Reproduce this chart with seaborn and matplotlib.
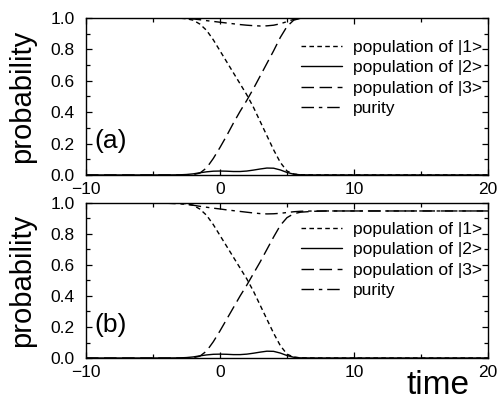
import matplotlib
matplotlib.use('Agg')
import matplotlib.pyplot as plt
from matplotlib.ticker import MultipleLocator
import seaborn as sns

sns.set_style('ticks')
plt.rcParams['font.family'] = ['Liberation Sans', 'DejaVu Sans']
plt.rcParams['text.color'] = 'black'
plt.rcParams['axes.labelcolor'] = 'black'
plt.rcParams['xtick.color'] = 'black'
plt.rcParams['ytick.color'] = 'black'

# ── data ──
time = [-10, -4, -3, -2.5, -2, -1.5, -1, -0.5, 0, 0.5, 1, 1.5, 2, 2.5, 3, 3.5,
        4, 4.5, 5, 5.5, 6, 7, 8, 10, 20]

# panel (a)
pop1_a = [1.0, 1.0, 0.998, 0.994, 0.985, 0.96, 0.92, 0.86, 0.79, 0.72, 0.65, 0.58,
          0.51, 0.43, 0.34, 0.25, 0.16, 0.08, 0.025, 0.006, 0.001, 0, 0, 0, 0]
pop2_a = [0, 0, 0.001, 0.003, 0.007, 0.014, 0.02, 0.024, 0.025, 0.024, 0.022, 0.022,
          0.025, 0.031, 0.038, 0.044, 0.043, 0.032, 0.016, 0.005, 0.001, 0, 0, 0, 0]
pop3_a = [0, 0, 0, 0, 0.002, 0.012, 0.045, 0.105, 0.175, 0.25, 0.33, 0.405,
          0.475, 0.55, 0.63, 0.71, 0.79, 0.875, 0.945, 0.985, 0.997, 1.0, 1.0, 1.0, 1.0]
purity_a = [1.0, 1.0, 0.999, 0.997, 0.993, 0.988, 0.982, 0.977, 0.972, 0.967, 0.962, 0.957,
            0.953, 0.95, 0.948, 0.949, 0.953, 0.962, 0.976, 0.99, 0.998, 1.0, 1.0, 1.0, 1.0]

# panel (b)
pop1_b = [1.0, 1.0, 0.998, 0.994, 0.985, 0.96, 0.92, 0.86, 0.79, 0.72, 0.65, 0.58,
          0.51, 0.43, 0.34, 0.25, 0.16, 0.08, 0.025, 0.006, 0.001, 0, 0, 0, 0]
pop2_b = [0, 0, 0.001, 0.003, 0.007, 0.014, 0.02, 0.024, 0.025, 0.024, 0.022, 0.022,
          0.025, 0.031, 0.038, 0.044, 0.043, 0.032, 0.016, 0.005, 0.001, 0, 0, 0, 0]
pop3_b = [0, 0, 0, 0, 0.002, 0.012, 0.045, 0.105, 0.175, 0.25, 0.325, 0.40,
          0.47, 0.545, 0.62, 0.70, 0.78, 0.855, 0.905, 0.93, 0.94, 0.946, 0.948, 0.948, 0.948]
purity_b = [1.0, 0.998, 0.994, 0.99, 0.985, 0.978, 0.972, 0.966, 0.961, 0.955, 0.95, 0.945,
            0.94, 0.935, 0.931, 0.929, 0.93, 0.933, 0.938, 0.943, 0.946, 0.948, 0.948, 0.948, 0.948]

labels = ['population of |1>', 'population of |2>', 'population of |3>', 'purity']
styles = [(0, (3.3, 2.4)), '-', (0, (9, 4)), (0, (9, 3.5, 2.5, 3.5))]

fig = plt.figure(figsize=(5, 4.05), dpi=100)
ax_a = fig.add_axes([0.172, 0.568, 0.804, 0.388])
ax_b = fig.add_axes([0.172, 0.116, 0.804, 0.383])

panels = [(ax_a, '(a)', [pop1_a, pop2_a, pop3_a, purity_a], 0.86),
          (ax_b, '(b)', [pop1_b, pop2_b, pop3_b, purity_b], 0.877)]

for ax, tag, series, leg_top in panels:
    for vals, lab, ls in zip(series, labels, styles):
        sns.lineplot(x=time, y=vals, ax=ax, color='black', linewidth=1.0,
                     linestyle=ls, label=lab)
    ax.set_xlim(-10, 20)
    ax.set_ylim(0, 1.0)
    ax.xaxis.set_major_locator(MultipleLocator(10))
    ax.xaxis.set_minor_locator(MultipleLocator(5))
    ax.yaxis.set_major_locator(MultipleLocator(0.2))
    ax.yaxis.set_minor_locator(MultipleLocator(0.1))
    ax.yaxis.set_major_formatter(plt.FormatStrFormatter('%.1f'))
    ax.tick_params(which='both', direction='in', top=True, right=True,
                   width=0.9, colors='black')
    ax.tick_params(which='major', length=4.5, labelsize=12.5)
    ax.tick_params(which='minor', length=3)
    ax.tick_params(axis='y', pad=8)
    ax.tick_params(axis='x', pad=5)
    for sp in ax.spines.values():
        sp.set_linewidth(1.0)
        sp.set_color('black')
    ax.set_ylabel('probability', fontsize=21)
    ax.yaxis.set_label_coords(-0.125, 0.5)
    ax.text(0.022, 0.215, tag, transform=ax.transAxes, fontsize=19,
            ha='left', va='center')
    ax.legend(loc='upper right', bbox_to_anchor=(0.985, leg_top), frameon=False,
              fontsize=12.5, handlelength=2.4, handletextpad=0.6,
              labelspacing=0.3, borderpad=0, borderaxespad=0)

ax_b.set_xlabel('time', fontsize=24)
ax_b.xaxis.set_label_coords(0.876, -0.075)

fig.savefig('out.png', dpi=100)
